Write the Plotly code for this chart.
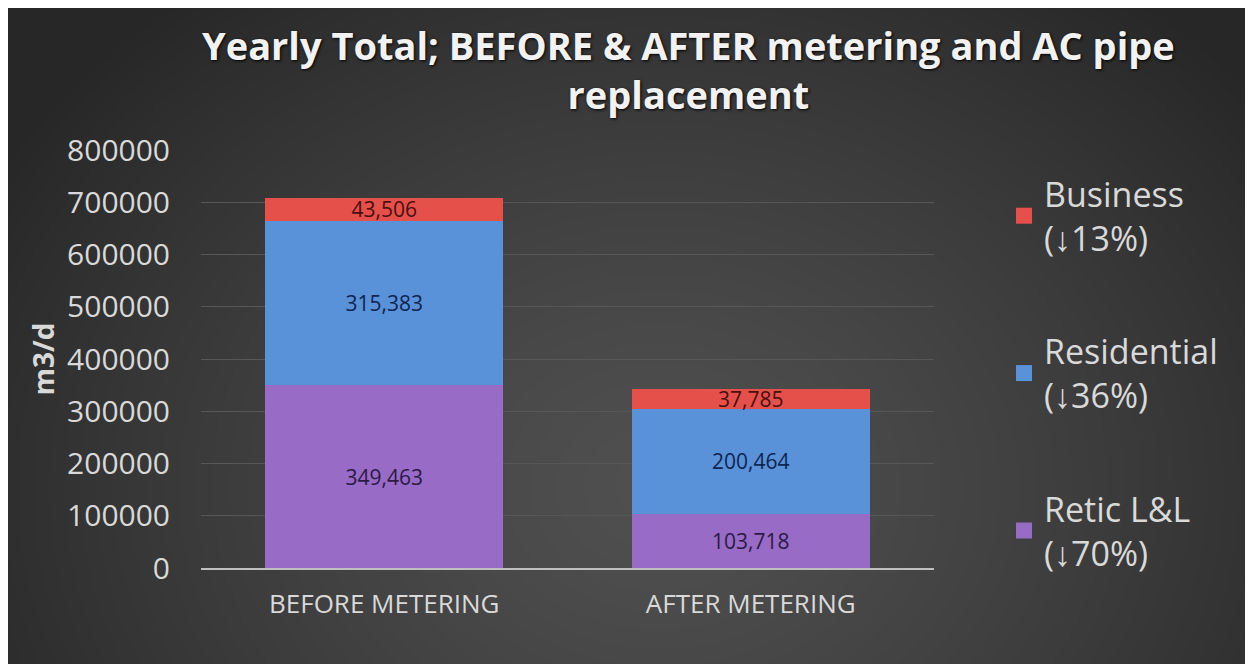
import base64
import struct
import zlib

import numpy as np
import plotly.graph_objects as go

# ── Datos ────────────────────────────────────────────────────────────────────
categorias = ["BEFORE METERING", "AFTER METERING"]
retic = [349463, 103718]
residencial = [315383, 200464]
negocio = [43506, 37785]

nombres = ["Retic L&L<br>(↓70%)", "Residential<br>(↓36%)", "Business<br>(↓13%)"]
y_ticks = [0, 100000, 200000, 300000, 400000, 500000, 600000, 700000, 800000]

# ── Estilo ───────────────────────────────────────────────────────────────────
W, H = 1253, 664
M_L, M_R, M_T, M_B = 193, 327, 142, 104
FUENTE = "Open Sans"
TEXTO = "#d9d9d9"

PLOT_W = W - M_L - M_R
PLOT_H = H - M_T - M_B


def px2x(px):
    return (px - M_L) / PLOT_W


def px2y(py):
    return (H - M_B - py) / PLOT_H


def fondo_png(w=W, h=H):
    """Degradado radial gris oscuro como PNG en base64."""
    yy, xx = np.mgrid[0:h, 0:w]
    cx, cy = 0.52 * w, 0.72 * h
    d = np.sqrt(((xx - cx) / (0.62 * w)) ** 2 + ((yy - cy) / (0.95 * h)) ** 2)
    d = np.clip(d, 0, 1)
    v = (0x50 - (0x50 - 0x27) * d ** 1.3).astype(np.uint8)
    rgb = np.repeat(v[:, :, None], 3, axis=2)
    raw = b"".join(b"\x00" + row.tobytes() for row in rgb)

    def chunk(tag, data):
        c = struct.pack(">I", len(data)) + tag + data
        return c + struct.pack(">I", zlib.crc32(tag + data) & 0xffffffff)

    png = b"\x89PNG\r\n\x1a\n"
    png += chunk(b"IHDR", struct.pack(">IIBBBBB", w, h, 8, 2, 0, 0, 0))
    png += chunk(b"IDAT", zlib.compress(raw, 9))
    png += chunk(b"IEND", b"")
    return "data:image/png;base64," + base64.b64encode(png).decode()


# (nombre, valores, color barra, color etiqueta, orden en leyenda)
series = [
    (nombres[0], retic, "#976bc6", "#2b1a45", 3),
    (nombres[1], residencial, "#5a92da", "#0f2550", 2),
    (nombres[2], negocio, "#e5504a", "#4a1010", 1),
]

fig = go.Figure()
for nombre, valores, color, color_txt, rango in series:
    fig.add_trace(go.Bar(
        x=categorias,
        y=valores,
        name=nombre,
        legendgroup=nombre,
        showlegend=False,
        marker=dict(color=color, line=dict(width=0)),
        text=[f"{v:,}" for v in valores],
        textposition="inside",
        insidetextanchor="middle",
        textangle=0,
        constraintext="none",
        textfont=dict(family=FUENTE, size=21, color=color_txt),
    ))
    # entrada de leyenda con cuadrado grande (estilo Excel)
    fig.add_trace(go.Scatter(
        x=[None], y=[None],
        mode="markers",
        name=nombre,
        legendgroup=nombre,
        legendrank=rango,
        marker=dict(symbol="square", size=17, color=color),
        hoverinfo="skip",
    ))

fig.update_layout(
    barmode="stack",
    bargap=0.35,
    width=W,
    height=H,
    margin=dict(l=M_L, r=M_R, t=M_T, b=M_B, autoexpand=False),
    paper_bgcolor="#333333",
    plot_bgcolor="rgba(0,0,0,0)",
    font=dict(family=FUENTE, color=TEXTO),
    xaxis=dict(
        showgrid=False,
        showline=True,
        linecolor="#bfbfbf",
        linewidth=2,
        ticks="",
        ticklabelstandoff=12,
        tickfont=dict(family=FUENTE, size=26, color=TEXTO),
    ),
    yaxis=dict(
        range=[0, 800000],
        tickvals=y_ticks,
        ticktext=[str(v) for v in y_ticks],
        showgrid=True,
        gridcolor="#575757",
        gridwidth=1,
        zeroline=False,
        ticks="",
        ticklabelstandoff=30,
        tickfont=dict(family=FUENTE, size=30, color=TEXTO),
        title=dict(text="<b>m3/d</b>", standoff=4,
                   font=dict(family=FUENTE, size=28, color=TEXTO)),
    ),
    legend=dict(
        x=px2x(996),
        xanchor="left",
        y=px2y(157),
        yanchor="top",
        traceorder="grouped",
        tracegroupgap=66,
        itemsizing="trace",
        maxheight=640,
        bgcolor="rgba(0,0,0,0)",
        font=dict(family=FUENTE, size=34, color=TEXTO),
        itemwidth=30,
    ),
    annotations=[dict(
        text="Yearly Total; BEFORE & AFTER metering and AC pipe<br>replacement",
        xref="paper", yref="paper",
        x=px2x(680), y=px2y(9),
        xanchor="center", yanchor="top",
        showarrow=False,
        font=dict(family=FUENTE, size=38, color="#f2f2f2", weight="bold",
                  shadow="1px 1px 3px #000"),
    )],
    images=[dict(
        source=fondo_png(),
        xref="paper", yref="paper",
        x=px2x(0), y=px2y(0),
        sizex=W / PLOT_W,
        sizey=H / PLOT_H,
        xanchor="left", yanchor="top",
        sizing="stretch",
        layer="below",
    )],
)

fig.write_html("out.html")
